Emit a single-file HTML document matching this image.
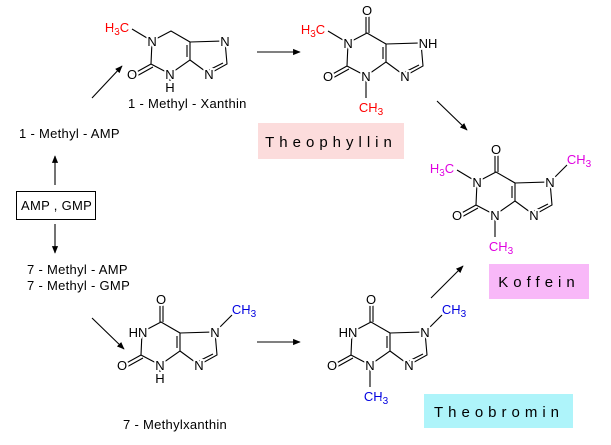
<!DOCTYPE html>
<html><head><meta charset="utf-8"><style>
html,body{margin:0;padding:0;background:#fff;}
svg{display:block;font-family:"Liberation Sans",Arial,sans-serif;}
.b{stroke:#000;stroke-width:1.1;fill:none;}
.a{font-size:13px;text-anchor:middle;stroke:#fff;stroke-width:4px;paint-order:stroke;stroke-linejoin:round;}
.t{font-size:13px;fill:#000;letter-spacing:0.3px;}
.s{font-size:10px;}
</style></head><body>
<svg width="611" height="445" viewBox="0 0 611 445" xmlns="http://www.w3.org/2000/svg">
<defs>
<marker id="ar" viewBox="0 0 10 10" refX="9" refY="5" markerWidth="7" markerHeight="7" orient="auto-start-reverse">
<path d="M0,1 L10,5 L0,9 z" fill="#000"/></marker>
<g id="core">
<path class="b" d="M0,0 L19,-10 L38,1 L38,19 L18,33 L-1,23 Z"/>
<path class="b" d="M35,4 L35,16"/>
<path class="b" d="M38,1 L73,0 L75,23 L57,33 L38,19"/>
<path class="b" d="M71,22 L57,29"/>
<path class="b" d="M-1,23 L-19,33 M1,26 L-17,36"/>
</g>
<g id="oxo"><path class="b" d="M18,-10 L18,-31 M21,-10 L21,-31"/></g>
</defs>

<rect x="258" y="123" width="146" height="36" fill="#fcdcdc"/>
<rect x="489" y="264" width="100" height="35" fill="#f8b8f8"/>
<rect x="424" y="394" width="149" height="34" fill="#aef4fa"/>
<text x="331" y="147" font-size="15" text-anchor="middle" letter-spacing="5">Theophyllin</text>
<text x="539" y="287" font-size="15" text-anchor="middle" letter-spacing="5">Koffein</text>
<text x="499" y="417" font-size="15" text-anchor="middle" letter-spacing="5">Theobromin</text>

<g transform="translate(152,41)">
<use href="#core"/>
<path class="b" d="M0,0 L-20,-12 M18,33 L18,40"/>
<text class="a" x="0" y="5">N</text>
<text class="a" x="18" y="38">N</text>
<text class="a" x="18" y="51">H</text>
<text class="a" x="73" y="5">N</text>
<text class="a" x="57" y="38">N</text>
<text class="a" x="-20" y="38">O</text>
<text class="a" x="-35" y="-9" fill="#f00">H<tspan class="s" dy="3">3</tspan><tspan dy="-3">C</tspan></text>
</g>
<text class="t" x="128" y="108">1 - Methyl - Xanthin</text>

<g transform="translate(348,43)">
<use href="#core"/><use href="#oxo"/>
<path class="b" d="M0,0 L-20,-12 M18,33 L18,55"/>
<text class="a" x="0" y="5">N</text>
<text class="a" x="18" y="38">N</text>
<text class="a" x="80" y="5">NH</text>
<text class="a" x="57" y="38">N</text>
<text class="a" x="-20" y="38">O</text>
<text class="a" x="19" y="-28">O</text>
<text class="a" x="-35" y="-9" fill="#f00">H<tspan class="s" dy="3">3</tspan><tspan dy="-3">C</tspan></text>
<text class="a" x="23" y="69" fill="#f00">CH<tspan class="s" dy="3">3</tspan></text>
</g>

<g transform="translate(477,182)">
<use href="#core"/><use href="#oxo"/>
<path class="b" d="M0,0 L-20,-12 M18,33 L18,55 M73,0 L90,-17"/>
<text class="a" x="0" y="5">N</text>
<text class="a" x="18" y="38">N</text>
<text class="a" x="73" y="5">N</text>
<text class="a" x="57" y="38">N</text>
<text class="a" x="-20" y="38">O</text>
<text class="a" x="19" y="-28">O</text>
<text class="a" x="-35" y="-9" fill="#e000e0">H<tspan class="s" dy="3">3</tspan><tspan dy="-3">C</tspan></text>
<text class="a" x="24" y="69" fill="#e000e0">CH<tspan class="s" dy="3">3</tspan></text>
<text class="a" x="102" y="-18" fill="#e000e0">CH<tspan class="s" dy="3">3</tspan></text>
</g>

<g transform="translate(142,332)">
<use href="#core"/><use href="#oxo"/>
<path class="b" d="M18,33 L18,40 M73,0 L90,-17"/>
<text class="a" x="-4" y="5">HN</text>
<text class="a" x="18" y="38">N</text>
<text class="a" x="18" y="51">H</text>
<text class="a" x="73" y="5">N</text>
<text class="a" x="57" y="38">N</text>
<text class="a" x="-20" y="38">O</text>
<text class="a" x="19" y="-28">O</text>
<text class="a" x="102" y="-18" fill="#0000e0">CH<tspan class="s" dy="3">3</tspan></text>
</g>
<text class="t" x="123" y="429">7 - Methylxanthin</text>

<g transform="translate(352,332)">
<use href="#core"/><use href="#oxo"/>
<path class="b" d="M18,33 L18,55 M73,0 L90,-17"/>
<text class="a" x="-4" y="5">HN</text>
<text class="a" x="18" y="38">N</text>
<text class="a" x="73" y="5">N</text>
<text class="a" x="57" y="38">N</text>
<text class="a" x="-20" y="38">O</text>
<text class="a" x="19" y="-28">O</text>
<text class="a" x="24" y="69" fill="#0000e0">CH<tspan class="s" dy="3">3</tspan></text>
<text class="a" x="102" y="-18" fill="#0000e0">CH<tspan class="s" dy="3">3</tspan></text>
</g>

<rect x="16.5" y="191.5" width="79" height="28" fill="none" stroke="#000"/>
<text class="t" x="21" y="210">AMP , GMP</text>
<text class="t" x="19" y="138">1 - Methyl - AMP</text>
<text class="t" x="27" y="274">7 - Methyl - AMP</text>
<text class="t" x="27" y="290">7 - Methyl - GMP</text>

<g class="b" marker-end="url(#ar)">
<path d="M55,185 L55,156"/>
<path d="M55,224 L55,253"/>
<path d="M92,98 L122,66"/>
<path d="M92,318 L124,349"/>
<path d="M257,52 L300,52"/>
<path d="M257,342 L300,342"/>
<path d="M437,101 L467,130"/>
<path d="M431,298 L463,266"/>
</g>
</svg>
</body></html>
